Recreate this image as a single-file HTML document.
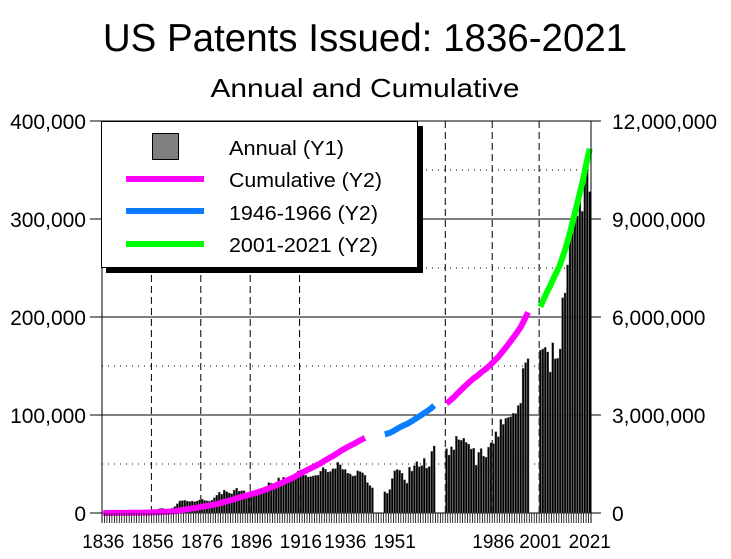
<!DOCTYPE html>
<html><head><meta charset="utf-8"><style>
html,body{margin:0;padding:0;background:#fff;}
body{width:731px;height:554px;overflow:hidden;font-family:"Liberation Sans",Arial,sans-serif;}
svg text{font-family:"Liberation Sans",Arial,sans-serif;}
</style></head><body>
<svg id="chart" width="731" height="554" xmlns="http://www.w3.org/2000/svg">
<text x="365" y="51" font-size="38.5" text-anchor="middle">US Patents Issued: 1836-2021</text>
<text x="365" y="97" font-size="26" text-anchor="middle" textLength="309" lengthAdjust="spacingAndGlyphs">Annual and Cumulative</text>
<g id="grid"></g><g id="bars"></g><g id="lines"></g><g id="axes"></g>
<g>
<rect x="106" y="126" width="317" height="147" fill="#000"/>
<rect x="101.5" y="121.5" width="316" height="146" fill="#fff" stroke="#000"/>
<rect x="152.5" y="133.5" width="26" height="26" fill="#808080" stroke="#000"/>
<text x="229" y="155" font-size="20" textLength="115" lengthAdjust="spacingAndGlyphs">Annual (Y1)</text>
<rect x="126" y="176" width="78" height="6" fill="#ff00ff"/>
<text x="229" y="187" font-size="20" textLength="153" lengthAdjust="spacingAndGlyphs">Cumulative (Y2)</text>
<rect x="126" y="208" width="78" height="6" fill="#0a7cff"/>
<text x="229" y="220" font-size="20" textLength="149" lengthAdjust="spacingAndGlyphs">1946-1966 (Y2)</text>
<rect x="126" y="241" width="78" height="6" fill="#00ff00"/>
<text x="229" y="252" font-size="20" textLength="149" lengthAdjust="spacingAndGlyphs">2001-2021 (Y2)</text>
</g>
</svg>
<script>
const startYear = 1836;
const annual = [109,435,520,425,473,495,517,531,502,502,619,572,660,1070,995,869,1020,958,1902,2024,2502,2910,3710,4538,4819,3340,3521,4170,5020,6616,9450,12301,12526,12931,12137,11659,12180,11616,12230,13291,14169,12920,12345,12133,12926,15548,18135,21196,19147,23331,21767,20429,19585,23324,25313,22328,22661,22768,19875,20856,21867,22098,20404,23278,24644,25546,27136,31029,30258,29775,31170,35859,32757,36561,35141,32856,36198,33917,39892,43118,43892,40935,38452,36797,37060,37798,38369,38616,42574,46432,44733,41717,42357,45267,45226,51756,49282,44452,44420,40618,39831,37683,38061,43073,42238,41109,38514,31054,28053,25695,21803,20139,23963,35131,43040,44384,43616,40468,33809,30432,46817,42744,48330,52408,47170,48368,55691,45679,47376,62857,68405,65652,59104,67559,64429,78317,74810,74143,76278,72000,70226,65269,66102,48854,61819,65771,57888,56860,67200,71661,70860,82952,77924,95537,90365,96511,97444,98342,101676,101419,109645,111984,147517,153485,157494,166035,167331,169023,164290,143806,173772,157282,157772,167349,219614,224505,253155,277835,300678,298407,303049,318829,307759,354430,352049,327798];
const gapBefore = [1946, 1967, 2001];
const gapSize = 4;
const pinkRanges = [[1836,1942],[1967,2000]];
const blueRange = [1946,1966];
const greenRange = [2001,2021];
const tickLabels = ["1836","1856","1876","1896","1916","1936","1951","1986","2001","2021"];
const tickYears = [1836,1856,1876,1896,1916,1934,1950,1986,2001,2021];
const dashYears = [1856,1876,1896,1916,1967,1986,2001];
const y1Ticks = [0,100000,200000,300000,400000];
const y2Ticks = [0,3000000,6000000,9000000,12000000];

const NS="http://www.w3.org/2000/svg";
const L=102,R=591,T=121,B=513;
const years=[];for(let i=0;i<annual.length;i++)years.push(startYear+i);
function idx(y){let k=y-startYear;for(const g of gapBefore)if(y>=g)k+=gapSize;return k;}
const nSlots=idx(startYear+annual.length-1)+1;
const slot=(R-L)/nSlots;
function x(y){return L+(idx(y)+0.5)*slot;}
function y1(v){return B-(v/400000)*(B-T);}
function y2(v){return B-(v/12000000)*(B-T);}
function mk(t,a,p){const e=document.createElementNS(NS,t);for(const k in a)e.setAttribute(k,a[k]);(p||document.getElementById('chart')).appendChild(e);return e;}
const cum=[];let s=0;for(const v of annual){s+=v;cum.push(s);}

const grid=document.getElementById('grid');
for(let v=50000;v<400000;v+=100000){const g=mk('line',{x1:L,x2:R,y1:y1(v),y2:y1(v),stroke:'#000','stroke-width':1,'stroke-dasharray':'1,5'},grid);
}
for(const v of y1Ticks){const g=mk('line',{x1:L-12,x2:R+10,y1:y1(v),y2:y1(v),stroke:'#000','stroke-width':1},grid);
}
for(const yr of dashYears){const g=mk('line',{x1:x(yr)-slot/2,x2:x(yr)-slot/2,y1:T,y2:B,stroke:'#000','stroke-width':1,'stroke-dasharray':'7,4'},grid);
}

const bg=document.getElementById('bars');
annual.forEach((v,i)=>{const yr=years[i];const b=mk('rect',{x:x(yr)-1,y:y1(v),width:2,height:B-y1(v),fill:'#000',stroke:'#666','stroke-width':0.4},bg);
});

const lg=document.getElementById('lines');
function seg(r,col,name){let d='';for(let yr=r[0];yr<=r[1];yr++){d+=(yr===r[0]?'M':'L')+x(yr).toFixed(1)+','+y2(cum[yr-startYear]).toFixed(1);}
const p=mk('path',{d:d,fill:'none',stroke:col,'stroke-width':6,'stroke-linejoin':'round'},lg);
}
pinkRanges.forEach((r,i)=>seg(r,'#ff00ff','cumulative-line-'+(i+1)));
seg(blueRange,'#0a7cff','cumulative-1946-1966-line');
seg(greenRange,'#00ff00','cumulative-2001-2021-line');

const ax=document.getElementById('axes');
const la=mk('line',{x1:L,x2:L,y1:T,y2:B+10,stroke:'#000'},ax);

const ra=mk('line',{x1:R,x2:R,y1:T,y2:B+10,stroke:'#000'},ax);

for(let i=0;i<nSlots;i++){const t=mk('line',{x1:L+i*slot,x2:L+i*slot,y1:B,y2:B+10,stroke:'#000','stroke-width':0.8},ax);
}
y1Ticks.forEach(v=>{const t=mk('text',{x:86,y:y1(v)+8,'font-size':21,'text-anchor':'end'},ax);t.textContent=v.toLocaleString('en-US');
});
y2Ticks.forEach(v=>{const t=mk('text',{x:612,y:y2(v)+8,'font-size':21},ax);t.textContent=v.toLocaleString('en-US');
});
tickLabels.forEach((lab,i)=>{const t=mk('text',{x:x(tickYears[i]),y:548,'font-size':19,'text-anchor':'middle'},ax);t.textContent=lab;
});
</script>
</body></html>
